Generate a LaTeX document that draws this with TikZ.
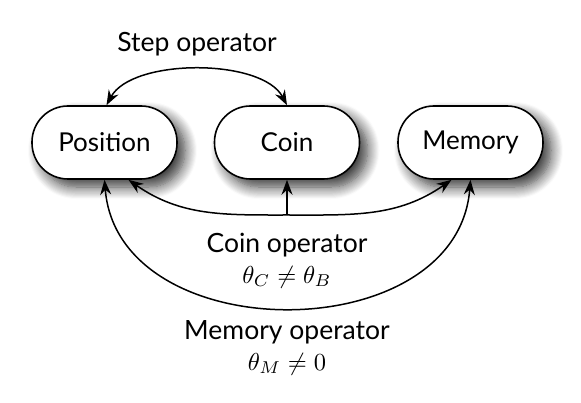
\documentclass[tikz,border=0pt]{standalone}
\usepackage{graphicx}
\usepackage{fontspec}
\setmainfont{Lato}
\usetikzlibrary{arrows.meta,shadows.blur,calc}
\begin{document}
\begin{tikzpicture}[x=1pt,y=-1pt,
  box/.style={draw,line width=1.6pt,fill=white,minimum width=145pt,minimum height=73pt,
    rounded corners=36pt,font=\fontsize{26}{30}\selectfont,inner sep=0pt,
    blur shadow={shadow xshift=8pt,shadow yshift=-8pt,shadow blur radius=12pt,shadow blur steps=12,shadow opacity=80}},
  conn/.style={line width=1.5pt},
  hd/.tip={Stealth[length=15pt,width=11pt,inset=5pt]},
  tip/.style={-hd},
  lbl/.style={font=\fontsize{26.5}{30}\selectfont}]
\useasboundingbox (0,0) rectangle (581,403);
\node[box] (P) at (104.5,142.5) {Position};
\node[box] (C) at (287,142.5) {Coin};
\node[box] (M) at (470.5,142.5) {Memory};
\node[lbl] (ls) at (197,44) {Step operator};
\node[lbl] (lc) at (287,245) {Coin operator};
\node (lcm) at (287,277) {\scalebox{2.45}{$\theta_C\neq\theta_B$}};
\node[lbl] (lm) at (287,332) {Memory operator};
\node (lmm) at (287,364) {\scalebox{2.45}{$\theta_M\neq 0$}};
% step operator
\draw[conn,hd-hd]
  ([xshift=2pt]P.north) .. controls (132,58) and (262,58) .. (C.north);
% coin operator
\coordinate (j) at (287,215);
\draw[conn,tip] (j) -- (C.south);
\draw[conn,tip] (j) to[out=180,in=-35] ([xshift=24pt]P.south);
\draw[conn,tip] (j) to[out=0,in=-145] ([xshift=-19pt]M.south);
% memory operator
\draw[conn,hd-hd]
  (P.south) .. controls (118,350) and (457,350) .. (M.south);
\end{tikzpicture}
\end{document}
